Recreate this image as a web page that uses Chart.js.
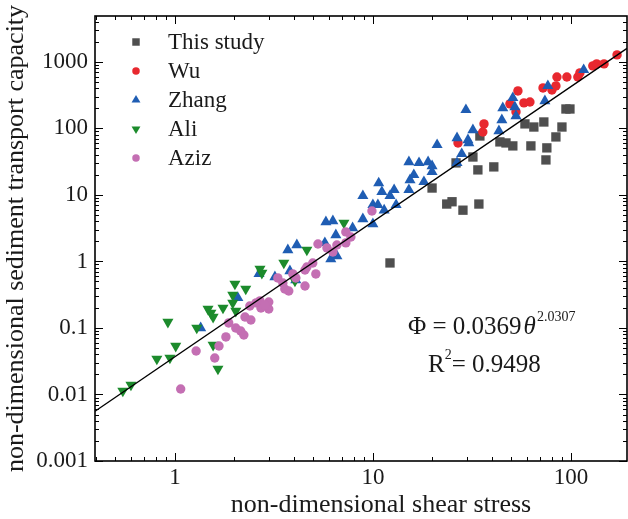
<!DOCTYPE html>
<html>
<head>
<meta charset="utf-8">
<script src="https://cdn.jsdelivr.net/npm/chart.js@4.4.1/dist/chart.umd.min.js"></script>
<style>
  html, body { margin: 0; padding: 0; background: #fff; }
  #wrap { width: 628px; height: 519px; }
</style>
</head>
<body>
<div id="wrap"><canvas id="chart" width="628" height="519"></canvas></div>
<script>
// values (theta, phi)
const studyX = [12.2, 19.9, 23.6, 25.1, 28.5, 34.3, 26.3, 32.0, 33.9, 40.8, 34.7, 43.8, 47, 50.9, 58.6, 65, 73, 62.8, 75.6, 74.8, 84, 90.1, 94.4, 98.9];
const studyY = [0.95, 12.7, 7.3, 7.9, 5.9, 7.3, 30.3, 37.2, 23.8, 26.4, 77, 62.7, 60.5, 54.6, 117, 105, 125, 54.6, 51, 33.6, 74.5, 105, 196, 196];

const wuX = [26.9, 36.4, 35.9, 49.2, 54, 52.8, 57.9, 62.1, 72.3, 80.2, 84, 85, 95.4, 108.4, 111, 129, 135, 147, 171];
const wuY = [60.5, 117, 88.5, 234, 366, 177, 242, 250, 406, 379, 436, 594, 594, 594, 684, 871, 933, 933, 1274];

const zhangX = [116, 76.5, 73.9, 50.9, 52.1, 52.8, 45.3, 44.8, 43.3, 29.5, 32, 30.2, 30.5, 26.6, 21.1, 28.1, 26.6, 15.2, 17.1, 19, 19.9, 19.9, 16.1, 15.4, 18.1, 15.2, 10.7, 11.1, 12.2, 12.8, 8.9, 10, 10.6, 11.4, 13.1, 8.9, 10, 5.79, 6.28, 6.5, 7.9, 6.58, 6.13, 4.13, 3.72, 3.81, 4.08, 3.2, 2.66, 2.08, 1.35, 5.72];
const zhangY = [759, 436, 259, 288, 210, 154, 203, 134, 91.6, 190, 94.8, 67.1, 60.5, 71.9, 56.5, 41.4, 30.3, 31.3, 30.3, 31.3, 27.3, 22.2, 20, 16.8, 15.7, 11.9, 15.1, 11.1, 9.7, 11.9, 9.7, 7.1, 7.1, 5.9, 7.1, 4.35, 3.66, 3.92, 4.06, 2.5, 3.19, 1.21, 1.09, 1.77, 1.49, 0.72, 0.527, 0.585, 0.65, 0.283, 0.1, 1.9];

const aliX = [0.546, 0.6, 0.811, 0.922, 1.01, 0.944, 1.29, 1.47, 1.52, 1.56, 1.75, 1.56, 1.65, 2.01, 1.96, 1.96, 2.03, 2.28, 2.69, 2.75, 3.55, 4.64, 4.04, 7.14];
const aliY = [0.0113, 0.0139, 0.0342, 0.123, 0.0536, 0.0354, 0.1, 0.193, 0.168, 0.146, 0.2, 0.0555, 0.0242, 0.459, 0.313, 0.238, 0.18, 0.386, 0.771, 0.671, 0.949, 1.49, 0.509, 3.79];

const azizX = [1.07, 1.28, 1.59, 1.67, 1.81, 1.87, 2.03, 2.15, 2.23, 2.26, 2.42, 2.39, 2.69, 2.72, 2.98, 2.98, 3.31, 3.51, 3.59, 3.76, 3.94, 4.08, 4.54, 4.64, 4.97, 5.15, 5.28, 5.86, 6.28, 6.58, 7.3, 7.74, 7.3, 9.89, 4.54, 2.85, 2.57];
const azizY = [0.0121, 0.0451, 0.0354, 0.0536, 0.0733, 0.119, 0.1, 0.0901, 0.0785, 0.146, 0.132, 0.214, 0.255, 0.2, 0.193, 0.246, 0.565, 0.475, 0.386, 0.36, 0.649, 0.565, 0.428, 0.826, 0.949, 0.649, 1.83, 1.6, 1.39, 1.77, 2.78, 2.33, 1.9, 5.74, 0.745, 0.222, 0.238];

// fitted line end points
const fitX = [0.395, 192];
const fitY = [0.0056, 1600];

const xTicks = [1, 10, 100];
const yTicks = [0.001, 0.01, 0.1, 1, 10, 100, 1000];

const names = ['This study', 'Wu', 'Zhang', 'Ali', 'Aziz'];

function pts(xs, ys) {
  return xs.map((v, i) => ({ x: v, y: ys[i] }));
}

Chart.defaults.font.family = '"Liberation Serif", "Times New Roman", serif';
Chart.defaults.color = '#1a1a1a';

const series = [
  { label: names[0], data: pts(studyX, studyY), pointStyle: 'rect', pointRadius: 6.6, rotation: 0, backgroundColor: '#4f4f4f' },
  { label: names[1], data: pts(wuX, wuY), pointStyle: 'circle', pointRadius: 4.7, rotation: 0, backgroundColor: '#e8282f' },
  { label: names[2], data: pts(zhangX, zhangY), pointStyle: 'triangle', pointRadius: 6.4, rotation: 0, backgroundColor: '#1f5db3' },
  { label: names[3], data: pts(aliX, aliY), pointStyle: 'triangle', pointRadius: 6.4, rotation: 180, backgroundColor: '#1c8b2c' },
  { label: names[4], data: pts(azizX, azizY), pointStyle: 'circle', pointRadius: 4.7, rotation: 0, backgroundColor: '#c46fb3' }
];

const datasets = series.map((s, i) => ({
  type: 'scatter',
  label: s.label,
  data: s.data,
  pointStyle: s.pointStyle,
  pointRadius: s.pointRadius,
  pointRotation: s.rotation,
  backgroundColor: s.backgroundColor,
  borderColor: s.backgroundColor,
  borderWidth: 0,
  order: 5 - i
}));

datasets.push({
  type: 'line',
  label: 'fit',
  data: pts(fitX, fitY),
  borderColor: '#000',
  borderWidth: 1.4,
  pointRadius: 0,
  order: 0
});

// frame, inward ticks, legend and equation
const extras = {
  id: 'extras',
  afterDraw(chart) {
    const ctx = chart.ctx;
    const a = chart.chartArea;
    const xs = chart.scales.x, ys = chart.scales.y;
    ctx.save();
    ctx.strokeStyle = '#000';
    ctx.lineWidth = 1;
    ctx.beginPath();
    for (let e = -1; e <= 2; e++) {
      for (let m = 1; m <= 9; m++) {
        const v = m * Math.pow(10, e);
        if (v < xs.min || v > xs.max) continue;
        const px = Math.round(xs.getPixelForValue(v)) + 0.5;
        const len = m === 1 ? 8 : 4;
        ctx.moveTo(px, a.bottom); ctx.lineTo(px, a.bottom - len);
        ctx.moveTo(px, a.top); ctx.lineTo(px, a.top + len);
      }
    }
    for (let e = -3; e <= 3; e++) {
      for (let m = 1; m <= 9; m++) {
        const v = m * Math.pow(10, e);
        if (v < ys.min || v > ys.max) continue;
        const py = Math.round(ys.getPixelForValue(v)) + 0.5;
        const len = m === 1 ? 8 : 4;
        ctx.moveTo(a.left, py); ctx.lineTo(a.left + len, py);
        ctx.moveTo(a.right, py); ctx.lineTo(a.right - len, py);
      }
    }
    ctx.stroke();
    ctx.lineWidth = 1.6;
    ctx.strokeRect(a.left, a.top, a.right - a.left, a.bottom - a.top);

    // legend
    const lx = 136, ty = 42, gap = 29;
    series.forEach((s, i) => {
      const y = ty + i * gap;
      ctx.fillStyle = s.backgroundColor;
      ctx.strokeStyle = s.backgroundColor;
      Chart.helpers.drawPoint(ctx, {
        pointStyle: s.pointStyle,
        radius: s.pointRadius * 0.8,
        rotation: s.rotation,
        borderWidth: 0
      }, lx, y);
      ctx.fillStyle = '#1a1a1a';
      ctx.font = '23px "Liberation Serif"';
      ctx.textBaseline = 'middle';
      ctx.textAlign = 'left';
      ctx.fillText(s.label, 168, y + 1);
    });

    // equation
    ctx.fillStyle = '#1a1a1a';
    ctx.textBaseline = 'alphabetic';
    ctx.font = '25px "Liberation Serif"';
    let x = 408;
    const b1 = 334;
    const part1 = '\u03A6 = 0.0369';
    ctx.fillText(part1, x, b1);
    x += ctx.measureText(part1).width + 2;
    ctx.font = 'italic 25px "Liberation Serif"';
    ctx.fillText('\u03B8', x, b1);
    x += ctx.measureText('\u03B8').width + 1;
    ctx.font = '14px "Liberation Serif"';
    ctx.fillText('2.0307', x, b1 - 13);

    const b2 = 372;
    x = 428;
    ctx.font = '25px "Liberation Serif"';
    ctx.fillText('R', x, b2);
    x += ctx.measureText('R').width;
    ctx.font = '14px "Liberation Serif"';
    ctx.fillText('2', x, b2 - 13);
    x += ctx.measureText('2').width;
    ctx.font = '25px "Liberation Serif"';
    ctx.fillText('= 0.9498', x, b2);

    // x axis title
    ctx.textAlign = 'center';
    ctx.font = '26px "Liberation Serif"';
    ctx.fillText('non-dimensional shear stress', 381, 512);
    ctx.restore();
  }
};

new Chart(document.getElementById('chart'), {
  data: { datasets: datasets },
  options: {
    responsive: false,
    animation: false,
    layout: { autoPadding: false, padding: { top: 16, right: 1, left: 0, bottom: 0 } },
    plugins: { legend: { display: false }, tooltip: { enabled: false } },
    scales: {
      x: {
        type: 'logarithmic',
        min: 0.395,
        max: 192,
        grid: { display: false, drawTicks: false },
        border: { display: false },
        afterBuildTicks: s => { s.ticks = xTicks.map(v => ({ value: v })); },
        afterFit: s => { s.height = 58; s.paddingLeft = 0; s.paddingRight = 0; },
        ticks: { autoSkip: false, maxRotation: 0, padding: 3, font: { size: 23 }, callback: v => String(v) }
      },
      y: {
        type: 'logarithmic',
        min: 0.001,
        max: 4900,
        grid: { display: false, drawTicks: false },
        border: { display: false },
        afterBuildTicks: s => { s.ticks = yTicks.map(v => ({ value: v })); },
        afterFit: s => { s.width = 95; s.paddingTop = 0; s.paddingBottom = 0; },
        ticks: { autoSkip: false, padding: 7, font: { size: 23 }, callback: v => String(v) },
        title: {
          display: true,
          text: 'non-dimensional sediment transport capacity',
          font: { size: 26 },
          padding: { top: 1, bottom: 0 }
        }
      }
    }
  },
  plugins: [extras]
});
</script>
</body>
</html>
